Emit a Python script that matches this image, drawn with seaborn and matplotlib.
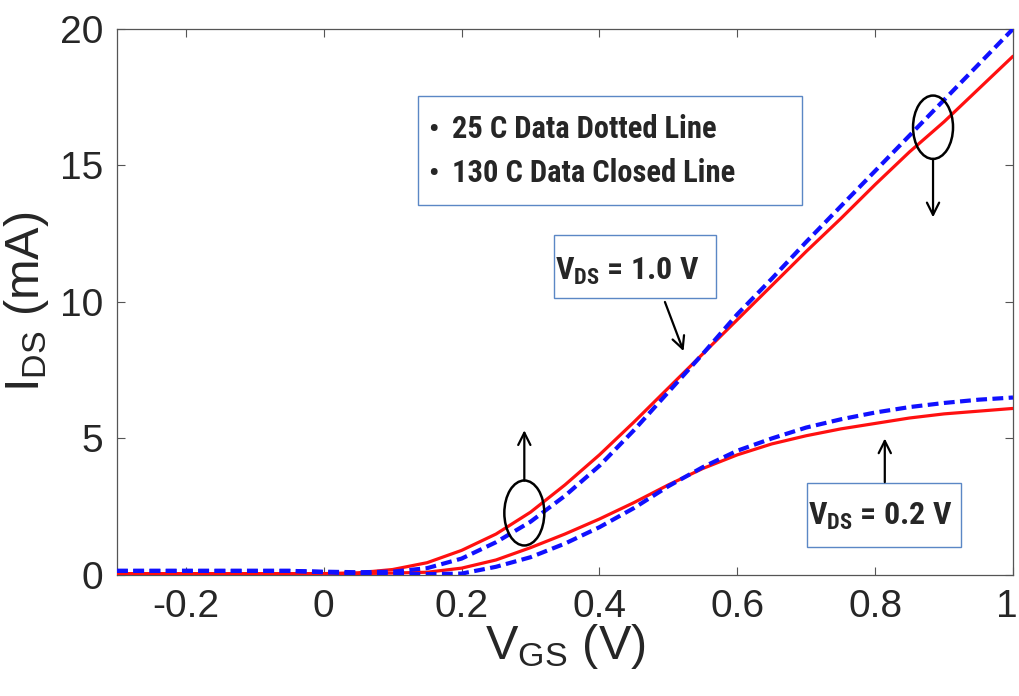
import matplotlib
matplotlib.use("Agg")
import matplotlib.pyplot as plt
from matplotlib import font_manager
from matplotlib.patches import Ellipse, Rectangle
from matplotlib.transforms import ScaledTranslation
import seaborn as sns
import pandas as pd

# Gate voltage sweep (V)
vgs = [-0.30, -0.25, -0.20, -0.15, -0.10, -0.05, 0.00, 0.05, 0.10, 0.15,
       0.20, 0.25, 0.30, 0.35, 0.40, 0.45, 0.50, 0.55, 0.60, 0.65,
       0.70, 0.75, 0.80, 0.85, 0.90, 0.95, 1.00]

# Drain current (mA), VDS = 1.0 V
ids_1v_130c = [0.05, 0.05, 0.05, 0.05, 0.05, 0.05, 0.05, 0.08, 0.20, 0.45,
               0.90, 1.50, 2.30, 3.30, 4.40, 5.60, 6.85, 8.10, 9.35, 10.60,
               11.85, 13.05, 14.30, 15.50, 16.60, 17.80, 19.00]
ids_1v_25c = [0.15, 0.15, 0.15, 0.15, 0.15, 0.15, 0.12, 0.10, 0.12, 0.25,
              0.60, 1.20, 1.95, 2.90, 4.00, 5.30, 6.70, 8.10, 9.55, 10.85,
              12.20, 13.50, 14.80, 16.10, 17.40, 18.70, 20.00]

# Drain current (mA), VDS = 0.2 V
ids_02v_130c = [0.05, 0.05, 0.05, 0.05, 0.05, 0.05, 0.05, 0.05, 0.07, 0.10,
                0.25, 0.55, 1.00, 1.50, 2.05, 2.65, 3.30, 3.90, 4.40, 4.80,
                5.10, 5.35, 5.55, 5.75, 5.90, 6.00, 6.10]
ids_02v_25c = [0.15, 0.15, 0.15, 0.15, 0.15, 0.15, 0.10, 0.05, 0.03, 0.03,
               0.05, 0.30, 0.65, 1.15, 1.75, 2.45, 3.25, 3.95, 4.55, 5.00,
               5.40, 5.70, 5.95, 6.15, 6.30, 6.42, 6.50]

x_ticks = [-0.2, 0, 0.2, 0.4, 0.6, 0.8, 1]
x_tick_labels = ["-0.2", "0", "0.2", "0.4", "0.6", "0.8", "1"]
y_ticks = [0, 5, 10, 15, 20]
legend_lines = ["25 C Data Dotted Line", "130 C Data Closed Line"]


def first_installed(candidates, default):
    names = {f.name for f in font_manager.fontManager.ttflist}
    for c in candidates:
        if c in names:
            return c
    return default


base_font = first_installed(["Liberation Sans Narrow", "Arial Narrow", "Liberation Sans"],
                            "DejaVu Sans")
note_font = first_installed(["Roboto Condensed", "Open Sans Condensed", "Liberation Sans Narrow",
                             "Lato"], "DejaVu Sans")
narrow_notes = note_font != "Lato"
note_size = 22 if narrow_notes else 19.5
tag_size = 23 if narrow_notes else 19

sns.set_style("ticks")
plt.rcParams["font.family"] = [base_font, "DejaVu Sans"]
plt.rcParams["mathtext.fontset"] = "custom"
plt.rcParams["mathtext.rm"] = base_font
plt.rcParams["mathtext.bf"] = f"{note_font}:bold"

fig = plt.figure(figsize=(10.19, 6.96), dpi=100)
ax = fig.add_axes([0.1148, 0.1739, 0.8793, 0.7845])

df = pd.DataFrame({"vgs": vgs,
                   "i1_hot": ids_1v_130c, "i1_cold": ids_1v_25c,
                   "i2_hot": ids_02v_130c, "i2_cold": ids_02v_25c})

red = "#ff1010"
blue = "#1010ff"
dash = (0, (2.6, 1.3))
for col in ["i2_hot", "i1_hot"]:
    sns.lineplot(data=df, x="vgs", y=col, ax=ax, color=red, lw=2.3,
                 estimator=None, sort=False, zorder=3)
for col in ["i2_cold", "i1_cold"]:
    sns.lineplot(data=df, x="vgs", y=col, ax=ax, color=blue, lw=3.0,
                 linestyle=dash, estimator=None, sort=False, zorder=4)

ax.set_xlim(-0.3, 1.0)
ax.set_ylim(0, 20)
ax.set_xticks(x_ticks)
ax.set_xticklabels(x_tick_labels)
ax.set_yticks(y_ticks)
ax.tick_params(direction="in", length=6, width=0.8, color="#555555",
               labelsize=28, top=True, right=True, pad=10)
# keep the last x label inside the canvas
last = ax.get_xticklabels()[-1]
last.set_transform(last.get_transform() + ScaledTranslation(-6 / 100, 0, fig.dpi_scale_trans))
for s in ax.spines.values():
    s.set_visible(True)
    s.set_color("#555555")
    s.set_linewidth(0.9)

ax.set_xlabel(r"$\mathregular{V_{GS}}$ (V)", fontsize=35, labelpad=-2)
ax.set_ylabel(r"$\mathregular{I_{DS}}$ (mA)", fontsize=35, labelpad=6)

box_color = "#5b87c5"
# Note box describing the line styles
ax.add_patch(Rectangle((0.336, 0.678), 0.4285, 0.199, transform=ax.transAxes,
                       fill=True, facecolor="white", edgecolor=box_color,
                       lw=1.0, zorder=5))
for i, txt in enumerate(legend_lines):
    yb = 0.800 - i * 0.080
    ax.text(0.3535, yb, "\u2022", transform=ax.transAxes, fontsize=21,
            family=note_font, weight="bold", ha="center", va="baseline", zorder=6)
    ax.text(0.3735, yb, txt, transform=ax.transAxes, fontsize=note_size,
            family=note_font, weight="bold", ha="left", va="baseline", zorder=6)

# VDS = 1.0 V tag
ax.add_patch(Rectangle((0.4877, 0.5073), 0.1808, 0.1154, transform=ax.transAxes,
                       facecolor="white", edgecolor=box_color, lw=1.0, zorder=5))
ax.text(0.5695, 0.540, r"$\mathbf{V_{DS}}$ = 1.0 V", transform=ax.transAxes,
        fontsize=tag_size, family=note_font, weight="bold", ha="center",
        va="baseline", zorder=6)
ax.annotate("", xy=(0.522, 8.2), xytext=(0.495, 10.0),
            arrowprops=dict(arrowstyle="->", color="black", lw=1.6,
                            mutation_scale=22, shrinkA=0, shrinkB=0), zorder=6)

# VDS = 0.2 V tag
ax.add_patch(Rectangle((0.770, 0.0513), 0.172, 0.1172, transform=ax.transAxes,
                       facecolor="white", edgecolor=box_color, lw=1.0, zorder=5))
ax.text(0.852, 0.0915, r"$\mathbf{V_{DS}}$ = 0.2 V", transform=ax.transAxes,
        fontsize=tag_size, family=note_font, weight="bold", ha="center",
        va="baseline", zorder=6)
ax.annotate("", xy=(0.814, 5.0), xytext=(0.814, 3.4),
            arrowprops=dict(arrowstyle="->", color="black", lw=1.6,
                            mutation_scale=22, shrinkA=0, shrinkB=0), zorder=6)

# Temperature-trend markers
ax.add_patch(Ellipse((0.291, 2.27), 0.058, 2.38, fill=False, edgecolor="black",
                     lw=1.8, zorder=6))
ax.annotate("", xy=(0.291, 5.3), xytext=(0.291, 3.46),
            arrowprops=dict(arrowstyle="->", color="black", lw=1.6,
                            mutation_scale=22, shrinkA=0, shrinkB=0), zorder=6)
ax.add_patch(Ellipse((0.884, 16.4), 0.058, 2.32, fill=False, edgecolor="black",
                     lw=1.8, zorder=6))
ax.annotate("", xy=(0.884, 13.1), xytext=(0.884, 15.24),
            arrowprops=dict(arrowstyle="->", color="black", lw=1.6,
                            mutation_scale=22, shrinkA=0, shrinkB=0), zorder=6)

fig.savefig("out.png", dpi=100, facecolor="white")
